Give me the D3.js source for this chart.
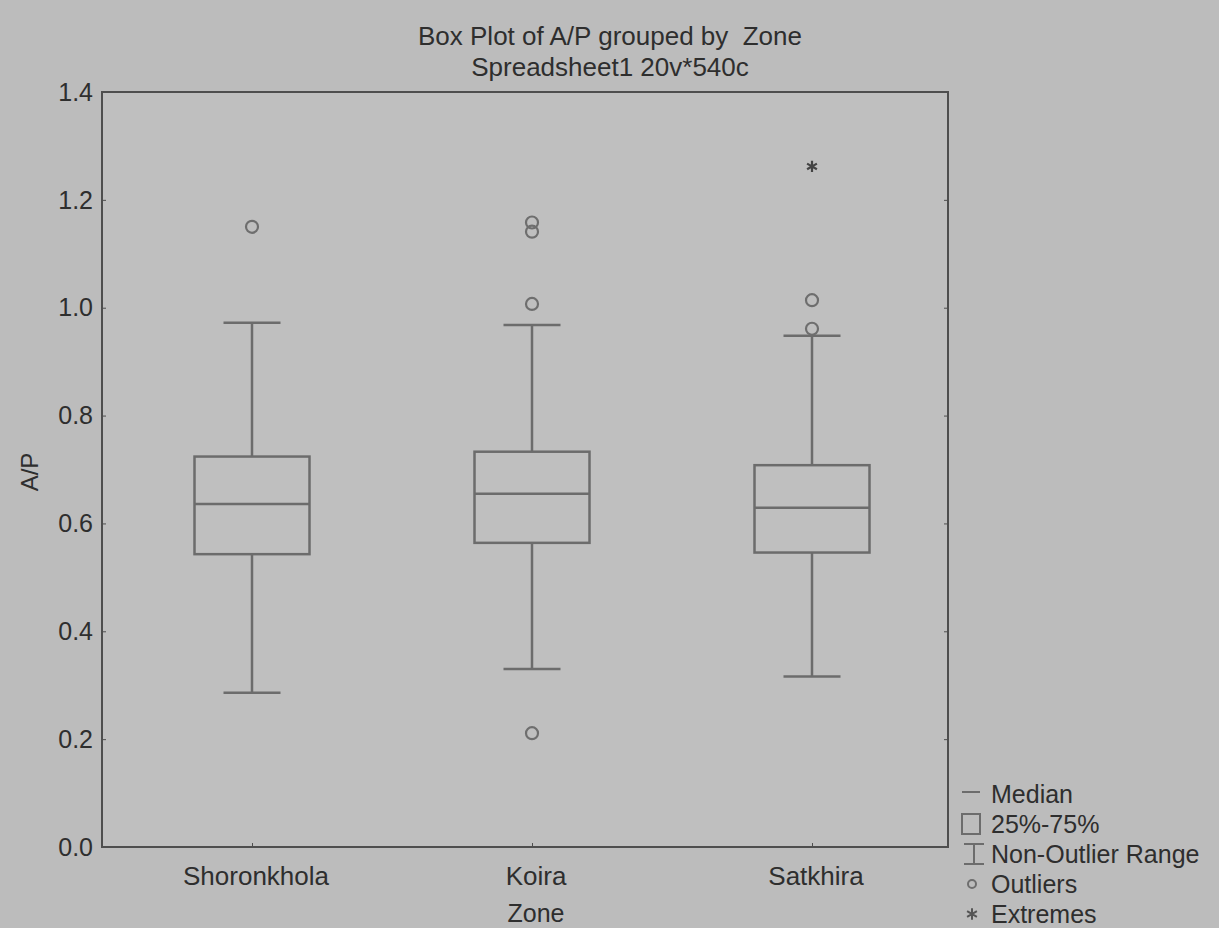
<!DOCTYPE html>
<html>
<head>
<meta charset="utf-8">
<script src="https://cdn.jsdelivr.net/npm/d3@7"></script>
<style>
  body { margin: 0; background: #bcbcbc; }
  svg text { font-family: "Liberation Sans", Arial, sans-serif; fill: #2e2e2e; white-space: pre; }
</style>
</head>
<body>
<div id="chart"></div>
<script>
// data
var categories = ["Shoronkhola", "Koira", "Satkhira"];
var medians = [0.636, 0.655, 0.629];
var q1 = [0.543, 0.564, 0.546];
var q3 = [0.724, 0.733, 0.708];
var whiskerLow = [0.286, 0.330, 0.316];
var whiskerHigh = [0.972, 0.968, 0.948];
var outliers = [[1.150], [1.158, 1.141, 1.007, 0.211], [1.014, 0.961]];
var extremes = [[], [], [1.262]];
var yTicks = [0.0, 0.2, 0.4, 0.6, 0.8, 1.0, 1.2, 1.4];
var legendItems = ["Median", "25%-75%", "Non-Outlier Range", "Outliers", "Extremes"];

var W = 1219, H = 928;
var plot = { left: 102, right: 948, top: 92, bottom: 847 };
var lineCol = "#6c6c6c";

var svg = d3.select("#chart").append("svg")
    .attr("width", W)
    .attr("height", H);

svg.append("rect").attr("width", W).attr("height", H).attr("fill", "#bcbcbc");

var x = d3.scalePoint()
    .domain(categories)
    .range([252, 812]);

var y = d3.scaleLinear()
    .domain([0, 1.4])
    .range([plot.bottom, plot.top]);

var boxW = 115, capW = 57;
var asterisk = d3.symbol().type(d3.symbolAsterisk).size(90);

// plot frame
svg.append("rect")
    .attr("x", plot.left)
    .attr("y", plot.top)
    .attr("width", plot.right - plot.left)
    .attr("height", plot.bottom - plot.top)
    .attr("fill", "#bfbfbf")
    .attr("stroke", "#4e4e4e")
    .attr("stroke-width", 2);

// left axis with labels, ticks pointing inward
var yAxis = svg.append("g")
    .attr("transform", "translate(" + plot.left + ",0)")
    .call(d3.axisRight(y).tickValues(yTicks).tickSize(4).tickFormat(""));
yAxis.select(".domain").remove();
yAxis.selectAll("line").attr("stroke", "#4e4e4e");

svg.append("g")
    .selectAll("text")
    .data(yTicks)
    .join("text")
    .attr("x", plot.left - 9)
    .attr("y", d => y(d))
    .attr("dy", "0.35em")
    .attr("text-anchor", "end")
    .style("font-size", "25px")
    .text(d3.format(".1f"));

// right axis ticks only
var yRight = svg.append("g")
    .attr("transform", "translate(" + plot.right + ",0)")
    .call(d3.axisLeft(y).tickValues(yTicks).tickSize(4).tickFormat(""));
yRight.select(".domain").remove();
yRight.selectAll("line").attr("stroke", "#4e4e4e");

// bottom axis
var xAxis = svg.append("g")
    .attr("transform", "translate(0," + plot.bottom + ")")
    .call(d3.axisTop(x).tickSize(4).tickFormat(""));
xAxis.select(".domain").remove();
xAxis.selectAll("line").attr("stroke", "#4e4e4e");

svg.append("g")
    .selectAll("text")
    .data(categories)
    .join("text")
    .attr("x", d => x(d) + 4)
    .attr("y", plot.bottom + 38)
    .attr("text-anchor", "middle")
    .style("font-size", "26px")
    .text(d => d);

// axis titles
svg.append("text")
    .attr("x", x("Koira") + 4)
    .attr("y", 922)
    .attr("text-anchor", "middle")
    .style("font-size", "25px")
    .text("Zone");

svg.append("text")
    .attr("transform", "translate(38," + 472 + ") rotate(-90)")
    .attr("text-anchor", "middle")
    .style("font-size", "24px")
    .text("A/P");

// title
svg.append("text")
    .attr("x", 610).attr("y", 45)
    .attr("text-anchor", "middle")
    .style("font-size", "26px")
    .text("Box Plot of A/P grouped by  Zone");
svg.append("text")
    .attr("x", 610).attr("y", 76)
    .attr("text-anchor", "middle")
    .style("font-size", "26px")
    .text("Spreadsheet1 20v*540c");

// boxes
var g = svg.append("g")
    .selectAll("g")
    .data(categories)
    .join("g");

g.append("line")
    .attr("x1", d => x(d)).attr("x2", d => x(d))
    .attr("y1", (d, i) => y(whiskerHigh[i]))
    .attr("y2", (d, i) => y(q3[i]))
    .attr("stroke", lineCol).attr("stroke-width", 2.5);

g.append("line")
    .attr("x1", d => x(d)).attr("x2", d => x(d))
    .attr("y1", (d, i) => y(q1[i]))
    .attr("y2", (d, i) => y(whiskerLow[i]))
    .attr("stroke", lineCol).attr("stroke-width", 2.5);

g.append("line")
    .attr("x1", d => x(d) - capW / 2).attr("x2", d => x(d) + capW / 2)
    .attr("y1", (d, i) => y(whiskerHigh[i]))
    .attr("y2", (d, i) => y(whiskerHigh[i]))
    .attr("stroke", lineCol).attr("stroke-width", 2.5);

g.append("line")
    .attr("x1", d => x(d) - capW / 2).attr("x2", d => x(d) + capW / 2)
    .attr("y1", (d, i) => y(whiskerLow[i]))
    .attr("y2", (d, i) => y(whiskerLow[i]))
    .attr("stroke", lineCol).attr("stroke-width", 2.5);

g.append("rect")
    .attr("x", d => x(d) - boxW / 2)
    .attr("y", (d, i) => y(q3[i]))
    .attr("width", boxW)
    .attr("height", (d, i) => y(q1[i]) - y(q3[i]))
    .attr("fill", "none")
    .attr("stroke", lineCol).attr("stroke-width", 2.5);

g.append("line")
    .attr("x1", d => x(d) - boxW / 2).attr("x2", d => x(d) + boxW / 2)
    .attr("y1", (d, i) => y(medians[i]))
    .attr("y2", (d, i) => y(medians[i]))
    .attr("stroke", lineCol).attr("stroke-width", 2.5);

g.selectAll("circle")
    .data((d, i) => outliers[i].map(v => ({ cat: d, v: v })))
    .join("circle")
    .attr("cx", d => x(d.cat))
    .attr("cy", d => y(d.v))
    .attr("r", 6)
    .attr("fill", "none")
    .attr("stroke", "#6e6e6e")
    .attr("stroke-width", 2.2);

g.selectAll("path.ext")
    .data((d, i) => extremes[i].map(v => ({ cat: d, v: v })))
    .join("path")
    .attr("class", "ext")
    .attr("transform", d => "translate(" + x(d.cat) + "," + y(d.v) + ")")
    .attr("d", asterisk)
    .attr("stroke", "#444")
    .attr("stroke-width", 2.2);

// legend
var lx = 970, ly0 = 794, lstep = 30;
var leg = svg.append("g")
    .selectAll("g")
    .data(legendItems)
    .join("g")
    .attr("transform", (d, i) => "translate(" + lx + "," + (ly0 + i * lstep) + ")");

leg.append("text")
    .attr("x", 21)
    .attr("dy", "0.35em")
    .style("font-size", "25px")
    .text(d => d);

leg.filter((d, i) => i === 0).append("line")
    .attr("x1", -8).attr("x2", 10).attr("y1", -2).attr("y2", -2)
    .attr("stroke", lineCol).attr("stroke-width", 2);
leg.filter((d, i) => i === 1).append("rect")
    .attr("x", -8).attr("y", -10).attr("width", 18).attr("height", 20)
    .attr("fill", "none").attr("stroke", lineCol).attr("stroke-width", 2);
leg.filter((d, i) => i === 2).append("path")
    .attr("d", "M-6,-10H14M4,-10V10M-6,10H14")
    .attr("fill", "none").attr("stroke", lineCol).attr("stroke-width", 2);
leg.filter((d, i) => i === 3).append("circle")
    .attr("cx", 2).attr("r", 4)
    .attr("fill", "none").attr("stroke", "#6e6e6e").attr("stroke-width", 2);
leg.filter((d, i) => i === 4).append("path")
    .attr("transform", "translate(2,0)")
    .attr("d", asterisk)
    .attr("stroke", "#555").attr("stroke-width", 2);
</script>
</body>
</html>
